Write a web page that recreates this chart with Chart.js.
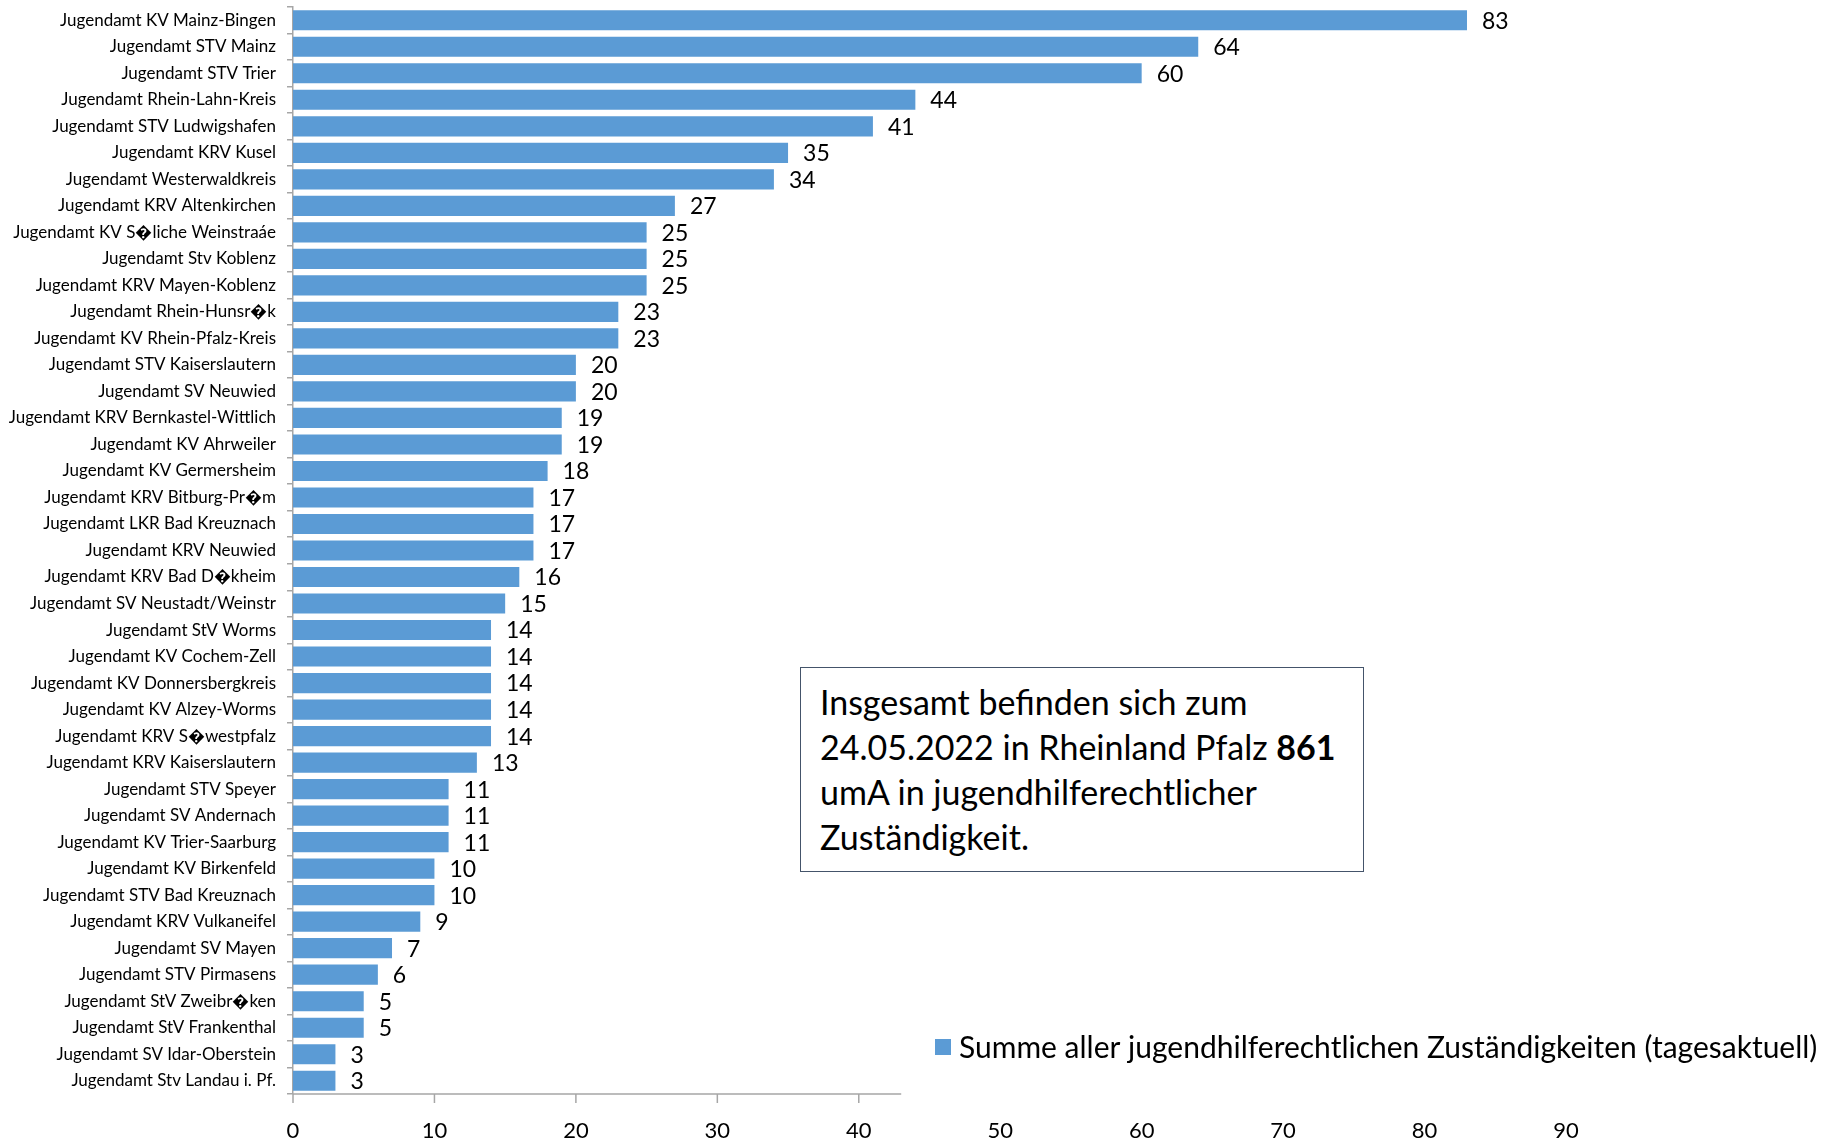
<!DOCTYPE html>
<html>
<head>
<meta charset="utf-8">
<script src="https://cdn.jsdelivr.net/npm/chart.js@4.4.1/dist/chart.umd.min.js"></script>
<style>
  html, body { margin: 0; padding: 0; background: #fff; }
  #wrap { position: relative; width: 1825px; height: 1141px; }
  #note {
    position: absolute; left: 800px; top: 667px; width: 564px; height: 205px;
    box-sizing: border-box; border: 1.5px solid #44546a; background: #fff;
    padding: 11px 0 0 19px; font-family: Lato, sans-serif; font-size: 34px;
    line-height: 45px; color: #000;
  }
</style>
</head>
<body>
<div id="wrap">
  <canvas id="chart" width="1825" height="1141"></canvas>
  <div id="note">Insgesamt befinden sich zum<br>24.05.2022 in Rheinland Pfalz <b>861</b><br>umA in jugendhilferechtlicher<br>Zuständigkeit.</div>
</div>
<script>
// Jugendaemter (Beschriftungen wie im Original)
var labels = [
  "Jugendamt KV Mainz-Bingen", "Jugendamt STV Mainz", "Jugendamt STV Trier",
  "Jugendamt Rhein-Lahn-Kreis", "Jugendamt STV Ludwigshafen", "Jugendamt KRV Kusel",
  "Jugendamt Westerwaldkreis", "Jugendamt KRV Altenkirchen", "Jugendamt KV S\uFFFDliche Weinstraáe",
  "Jugendamt Stv Koblenz", "Jugendamt KRV Mayen-Koblenz", "Jugendamt Rhein-Hunsr\uFFFDk",
  "Jugendamt KV Rhein-Pfalz-Kreis", "Jugendamt STV Kaiserslautern", "Jugendamt SV Neuwied",
  "Jugendamt KRV Bernkastel-Wittlich", "Jugendamt KV Ahrweiler", "Jugendamt KV Germersheim",
  "Jugendamt KRV Bitburg-Pr\uFFFDm", "Jugendamt LKR Bad Kreuznach", "Jugendamt KRV Neuwied",
  "Jugendamt KRV Bad D\uFFFDkheim", "Jugendamt SV Neustadt/Weinstr", "Jugendamt StV Worms",
  "Jugendamt KV Cochem-Zell", "Jugendamt KV Donnersbergkreis", "Jugendamt KV Alzey-Worms",
  "Jugendamt KRV S\uFFFDwestpfalz", "Jugendamt KRV Kaiserslautern", "Jugendamt STV Speyer",
  "Jugendamt SV Andernach", "Jugendamt KV Trier-Saarburg", "Jugendamt KV Birkenfeld",
  "Jugendamt STV Bad Kreuznach", "Jugendamt KRV Vulkaneifel", "Jugendamt SV Mayen",
  "Jugendamt STV Pirmasens", "Jugendamt StV Zweibr\uFFFDken", "Jugendamt StV Frankenthal",
  "Jugendamt SV Idar-Oberstein", "Jugendamt Stv Landau i. Pf."
];

// Summe aller jugendhilferechtlichen Zustaendigkeiten
var values = [83, 64, 60, 44, 41, 35, 34, 27, 25, 25, 25, 23, 23, 20, 20, 19, 19, 18, 17, 17, 17,
  16, 15, 14, 14, 14, 14, 14, 13, 11, 11, 11, 10, 10, 9, 7, 6, 5, 5, 3, 3];

var seriesName = "Summe aller jugendhilferechtlichen Zuständigkeiten (tagesaktuell)";
var xTicks = [0, 10, 20, 30, 40, 50, 60, 70, 80, 90];
var axisLineEnd = 43; // x-Achsenlinie endet im Original bei ca. 43

var barColor = "#5b9bd5";
var axisColor = "#a6a6a6";

// Werte rechts neben den Balken, Legende und verkuerzte x-Achse
var extras = {
  id: "extras",
  afterDatasetsDraw: function(chart) {
    var ctx = chart.ctx;
    var meta = chart.getDatasetMeta(0);
    ctx.save();
    ctx.fillStyle = "#000";
    ctx.font = "23px Lato";
    ctx.textBaseline = "middle";
    ctx.textAlign = "left";
    meta.data.forEach(function(bar, i) {
      ctx.fillText(values[i], bar.x + 15, bar.y + 1);
    });

    // x axis line (only partially drawn like the original)
    var xs = chart.scales.x;
    var y0 = chart.chartArea.bottom;
    ctx.strokeStyle = axisColor;
    ctx.lineWidth = 1.5;
    ctx.beginPath();
    ctx.moveTo(xs.getPixelForValue(0), y0);
    ctx.lineTo(xs.getPixelForValue(axisLineEnd), y0);
    ctx.stroke();
    xTicks.forEach(function(v) {
      if (v > 40) return;
      var px = xs.getPixelForValue(v);
      ctx.beginPath();
      ctx.moveTo(px, y0);
      ctx.lineTo(px, y0 + 9);
      ctx.stroke();
    });

    // legend
    var lx = 935, ly = 1047;
    ctx.fillStyle = barColor;
    ctx.fillRect(lx, ly - 8, 16, 16);
    ctx.fillStyle = "#000";
    ctx.font = "30px Lato";
    ctx.fillText(chart.data.datasets[0].label, lx + 24, ly + 1);
    ctx.restore();
  }
};

new Chart(document.getElementById("chart"), {
  type: "bar",
  data: {
    labels: labels,
    datasets: [{
      label: seriesName,
      data: values,
      backgroundColor: barColor,
      borderWidth: 0,
      barPercentage: 0.76,
      categoryPercentage: 1
    }]
  },
  options: {
    indexAxis: "y",
    responsive: false,
    animation: false,
    layout: { padding: { top: 7, right: 259, left: 0, bottom: 0 } },
    plugins: { legend: { display: false }, tooltip: { enabled: false } },
    scales: {
      x: {
        min: 0,
        max: 90,
        afterBuildTicks: function(s) { s.ticks = xTicks.map(function(v) { return { value: v }; }); },
        grid: { display: false, drawOnChartArea: false },
        border: { display: false },
        ticks: { color: "#000", font: { family: "Lato", size: 22 }, padding: 16, maxRotation: 0 },
        afterFit: function(s) { s.height = 47; s.paddingLeft = 0; s.paddingRight = 0; }
      },
      y: {
        offset: true,
        grid: { offset: true, drawOnChartArea: false, tickLength: 6, color: axisColor, lineWidth: 1.5 },
        border: { display: true, color: axisColor, width: 1.5 },
        ticks: { color: "#000", font: { family: "Lato", size: 17 }, padding: 11, autoSkip: false },
        afterFit: function(s) { s.width = 293; s.paddingTop = 0; s.paddingBottom = 0; }
      }
    }
  },
  plugins: [extras]
});
</script>
</body>
</html>
